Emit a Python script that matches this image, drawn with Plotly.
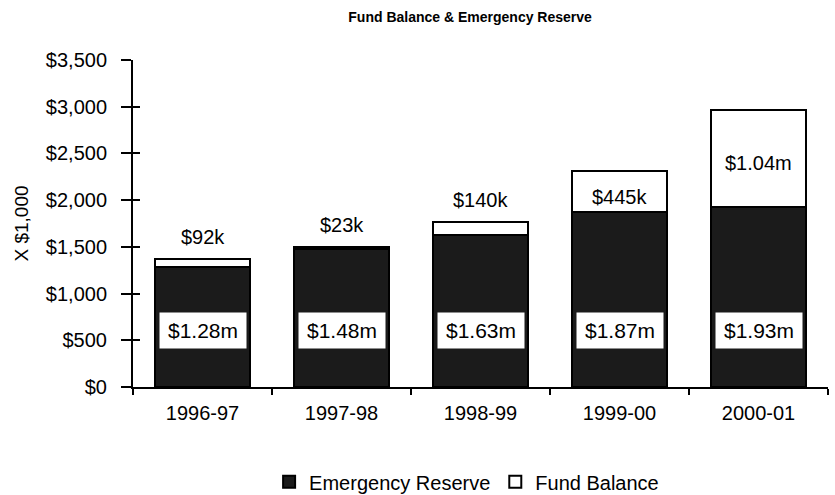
import plotly.graph_objects as go

# Fiscal years and balances, in thousands of dollars
years = ["1996-97", "1997-98", "1998-99", "1999-00", "2000-01"]
emergency_reserve = [1280, 1480, 1630, 1870, 1930]
fund_balance = [92, 23, 140, 445, 1040]
reserve_labels = ["$1.28m", "$1.48m", "$1.63m", "$1.87m", "$1.93m"]
balance_labels = ["$92k", "$23k", "$140k", "$445k", "$1.04m"]

y_ticks = [0, 500, 1000, 1500, 2000, 2500, 3000, 3500]
y_tick_text = ["$0", "$500", "$1,000", "$1,500", "$2,000", "$2,500", "$3,000", "$3,500"]

FONT = "Liberation Sans, Arial, sans-serif"
BLACK = "#1b1b1b"

fig = go.Figure()
fig.add_trace(go.Bar(
    name="Emergency Reserve", x=years, y=emergency_reserve,
    marker=dict(color=BLACK, line=dict(color="black", width=2)),
    hoverinfo="skip",
))
fig.add_trace(go.Bar(
    name="Fund Balance", x=years, y=fund_balance,
    marker=dict(color="white", line=dict(color="black", width=2)),
    hoverinfo="skip",
))
# placeholder trace so the tick-mirror axis is drawn
fig.add_trace(go.Scatter(x=[years[0]], y=[None], yaxis="y2", showlegend=False,
                         hoverinfo="skip", mode="markers"))

annotations = []
# white boxed reserve labels near the bottom of each bar
for yr, lab in zip(years, reserve_labels):
    annotations.append(dict(
        x=yr, y=600, text=lab, showarrow=False,
        font=dict(family=FONT, size=21, color="black"),
        bgcolor="white", width=86, height=35, borderpad=0,
    ))
# fund balance labels: above small segments, centred in large ones
for yr, er, fb, lab in zip(years, emergency_reserve, fund_balance, balance_labels):
    if fb < 300:
        annotations.append(dict(
            x=yr, y=er + fb, text=lab, showarrow=False, yanchor="bottom", yshift=9,
            font=dict(family=FONT, size=20, color="black"),
        ))
    else:
        annotations.append(dict(
            x=yr, y=er + fb / 2, text=lab, showarrow=False, yshift=-5,
            font=dict(family=FONT, size=20, color="black"),
        ))

fig.update_layout(
    barmode="stack",
    bargap=0.32,
    width=835, height=495,
    margin=dict(l=133, r=7, t=60, b=108, autoexpand=False),
    paper_bgcolor="white", plot_bgcolor="white",
    font=dict(family=FONT, size=20, color="black"),
    title=dict(
        text="<b>Fund Balance & Emergency Reserve</b>",
        x=0.485, xref="paper", xanchor="center",
        y=1 - 17 / 495, yref="container", yanchor="middle",
        font=dict(family=FONT, size=14, color="black"),
    ),
    xaxis=dict(
        type="category", automargin=False,
        showline=True, linecolor="black", linewidth=2,
        ticks="outside", ticklen=6, tickwidth=2, tickcolor="black",
        tickson="boundaries", showgrid=False, ticklabelstandoff=7,
        tickfont=dict(family=FONT, size=20),
    ),
    yaxis=dict(
        range=[0, 3500], tickvals=y_ticks, ticktext=y_tick_text, automargin=False,
        showline=True, linecolor="black", linewidth=2,
        ticks="outside", ticklen=10, tickwidth=2, tickcolor="black",
        showgrid=False, zeroline=False, ticklabelstandoff=10,
        tickfont=dict(family=FONT, size=20),
        title=dict(text="X $1,000", font=dict(family=FONT, size=19), standoff=12),
    ),
    yaxis2=dict(
        overlaying="y", range=[0, 3500], tickvals=y_ticks, automargin=False,
        showticklabels=False, ticks="inside", ticklen=7, tickwidth=2,
        tickcolor="black", showgrid=False, zeroline=False, showline=False,
    ),
    legend=dict(
        orientation="h", x=0.48, xanchor="center", y=-0.29, yanchor="middle",
        font=dict(family=FONT, size=20), traceorder="normal",
        itemwidth=30, bgcolor="rgba(0,0,0,0)",
    ),
    annotations=annotations,
    showlegend=True,
)

fig.write_html("out.html")
